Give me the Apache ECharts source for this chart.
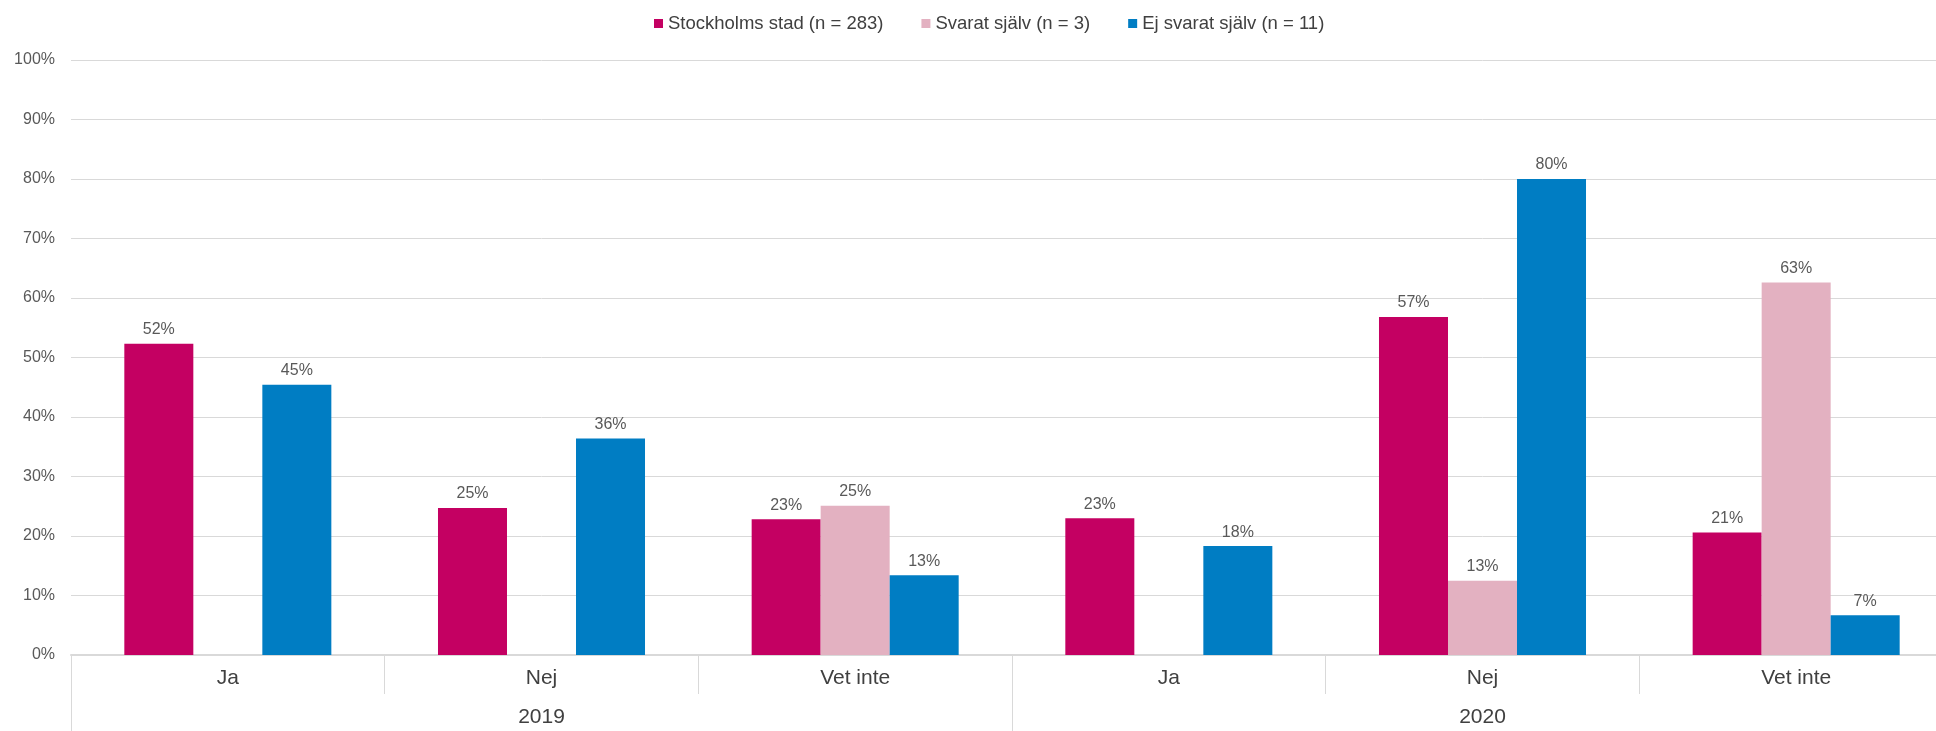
<!DOCTYPE html>
<html>
<head>
<meta charset="utf-8">
<script src="https://cdn.jsdelivr.net/npm/echarts@6/dist/echarts.min.js"></script>
<style>
  html, body { margin: 0; padding: 0; background: #fff; overflow: hidden; }
  /* diagrammet är något bredare än fönstret, högra kanten klipps som i originalet */
  #chart { width: 1953px; height: 731px; }
</style>
</head>
<body>
<div id="chart"></div>
<script>
// kategorier och år
const answers = ['Ja', 'Nej', 'Vet inte', 'Ja', 'Nej', 'Vet inte'];
const years = ['2019', '2020'];
const yTicks = [0, 10, 20, 30, 40, 50, 60, 70, 80, 90, 100];

// andel i procent, null = inget svar
const stockholm = [52.3, 24.7, 22.8, 23.0, 56.8, 20.6];
const svaratSjalv = [null, null, 25.1, null, 12.5, 62.6];
const ejSvaratSjalv = [45.4, 36.4, 13.4, 18.3, 80.0, 6.7];

const seriesNames = ['Stockholms stad (n = 283)', 'Svarat själv (n = 3)', 'Ej svarat själv (n = 11)'];

const font = "'Liberation Sans', Arial, sans-serif";
const gridColor = '#d9d9d9';

let myChart = echarts.init(document.getElementById('chart'));

function barSeries(name, data) {
  return {
    name: name,
    type: 'bar',
    xAxisIndex: 0,
    barGap: '0%',
    barCategoryGap: '34%',
    label: {
      show: true,
      position: 'top',
      distance: 6,
      color: '#595959',
      fontFamily: font,
      fontSize: 16,
      formatter: function (p) {
        return p.value == null ? '' : Math.round(p.value) + '%';
      }
    },
    data: data
  };
}

myChart.setOption({
  animation: false,
  color: ['#C40062', '#E3B1C1', '#007DC3'],
  textStyle: { fontFamily: font },
  legend: {
    top: 9,
    left: 649,
    icon: 'rect',
    itemWidth: 9,
    itemHeight: 9,
    itemGap: 38,
    textStyle: { color: '#404040', fontSize: 18.5, fontFamily: font },
    data: seriesNames
  },
  grid: {
    left: 71,
    right: 0,
    top: 60,
    bottom: 76,
    containLabel: false
  },
  xAxis: [
    {
      type: 'category',
      position: 'bottom',
      data: answers,
      axisLine: { show: true, lineStyle: { color: gridColor, width: 2 } },
      axisTick: { show: true, interval: 0, length: 39, lineStyle: { color: gridColor } },
      axisLabel: { interval: 0, margin: 13, color: '#404040', fontSize: 21, fontFamily: font }
    },
    {
      type: 'category',
      position: 'bottom',
      offset: 39,
      data: years,
      axisLine: { show: false },
      axisTick: { show: true, interval: 0, length: 40, lineStyle: { color: gridColor } },
      axisLabel: { interval: 0, margin: 13, color: '#404040', fontSize: 21, fontFamily: font }
    }
  ],
  yAxis: {
    type: 'value',
    min: yTicks[0],
    max: yTicks[yTicks.length - 1],
    interval: 10,
    axisLine: { show: false },
    axisTick: { show: false },
    splitLine: { lineStyle: { color: gridColor, width: 1 } },
    axisLabel: {
      margin: 16,
      color: '#595959',
      fontSize: 16,
      fontFamily: font,
      formatter: '{value}%'
    }
  },
  series: [
    barSeries(seriesNames[0], stockholm),
    barSeries(seriesNames[1], svaratSjalv),
    barSeries(seriesNames[2], ejSvaratSjalv)
  ]
});

window.addEventListener('resize', () => {
  myChart.resize();
});
</script>
</body>
</html>
